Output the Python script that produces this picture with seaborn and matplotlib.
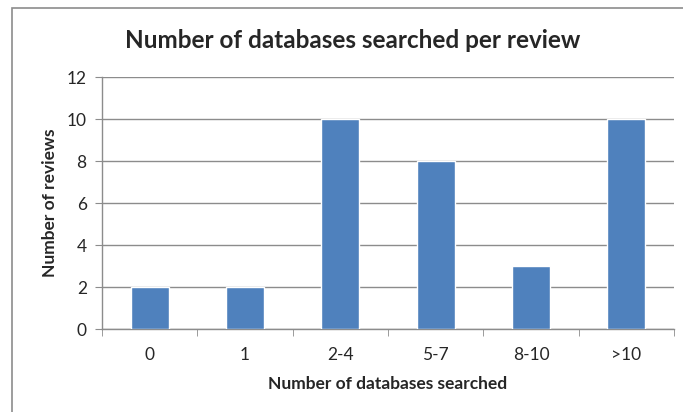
import pandas as pd
import matplotlib.pyplot as plt
import seaborn as sns
from matplotlib.patches import Rectangle

categories = ["0", "1", "2-4", "5-7", "8-10", ">10"]
reviews = [2, 2, 10, 8, 3, 10]

df = pd.DataFrame({"Databases": categories, "Reviews": reviews})

sns.set_style("white")
plt.rcParams["font.family"] = ["Lato", "DejaVu Sans"]

fig = plt.figure(figsize=(6.83, 4.12), dpi=100)
ax = fig.add_axes([102 / 683, 1 - 329 / 412, 572 / 683, 252 / 412])

sns.barplot(data=df, x="Databases", y="Reviews", color="#4F81BD",
            saturation=1, width=0.4, ax=ax, zorder=3)

ax.set_ylim(0, 12)
ax.set_xlim(-0.5, len(categories) - 0.5)
ax.set_yticks(range(0, 13, 2))
ax.yaxis.grid(True, color="#8C8C8C", linewidth=1, zorder=0)
ax.xaxis.grid(False)

# ticks: y at gridlines, x at category boundaries (Excel style)
ax.set_xticks([i - 0.5 for i in range(len(categories) + 1)], minor=True)
ax.tick_params(axis="x", which="major", length=0, labelsize=12.5, pad=13)
ax.tick_params(axis="x", which="minor", length=5, color="#8C8C8C", direction="out", bottom=True)
ax.tick_params(axis="y", length=5, color="#8C8C8C", direction="out", left=True, labelsize=12.5, pad=6)

for side in ["top", "right"]:
    ax.spines[side].set_visible(False)
for side in ["left", "bottom"]:
    ax.spines[side].set_color("#8C8C8C")
    ax.spines[side].set_linewidth(1)

ax.set_xlabel("Number of databases searched", fontsize=12.5, fontweight="bold", labelpad=9)
ax.set_ylabel("Number of reviews", fontsize=12.5, fontweight="bold", labelpad=6)

fig.text(0.516, 1 - 41 / 412, "Number of databases searched per review",
         ha="center", va="center", fontsize=17.5, fontweight="bold")

# chart area border (right and bottom edges fall outside the image)
fig.patches.append(Rectangle((11.5 / 683, -0.1), 1.2, 1.1 - 8.5 / 412,
                             transform=fig.transFigure, fill=False,
                             edgecolor="#8C8C8C", linewidth=1.2))

fig.savefig("out.png", dpi=100)
